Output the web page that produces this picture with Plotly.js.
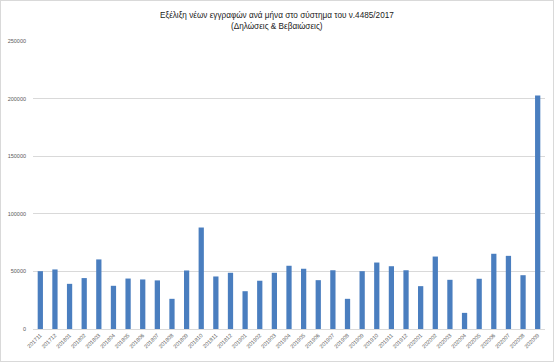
<!DOCTYPE html>
<html>
<head>
<meta charset="utf-8">
<script src="https://cdn.plot.ly/plotly-3.0.1.min.js"></script>
<style>
html,body{margin:0;padding:0;background:#fff;overflow:hidden;}
#chart{width:554px;height:362px;}
#frame{position:absolute;left:0;top:0;width:552px;height:360px;border:1px solid #d9d9d9;pointer-events:none;}
</style>
</head>
<body>
<div id="chart"></div>
<div id="frame"></div>
<script>
const months = ["201711","201712",
  "201801","201802","201803","201804","201805","201806","201807","201808","201809","201810","201811","201812",
  "201901","201902","201903","201904","201905","201906","201907","201908","201909","201910","201911","201912",
  "202001","202002","202003","202004","202005","202006","202007","202008","202009"];
const registrations = [50200, 51700,
  39200, 44200, 60400, 37500, 43800, 43000, 42200, 26200, 50800, 88100, 45600, 48800,
  32800, 41900, 48800, 54900, 52300, 42400, 51000, 26200, 50200, 57700, 54500, 51000,
  37200, 62900, 42700, 14000, 43600, 65300, 63500, 46700, 202700];
const yTicks = [0, 50000, 100000, 150000, 200000, 250000];
const titleLines = ["Εξέλιξη νέων εγγραφών ανά μήνα στο σύστημα του ν.4485/2017", "(Δηλώσεις & Βεβαιώσεις)"];

const trace = {
  type: "bar",
  x: months,
  y: registrations,
  marker: {color: "#4a7ebf"},
  hoverinfo: "x+y"
};

const titleFont = {size: 8.2, color: "#1a1a1a", family: "Liberation Sans, Arial, sans-serif"};
const plotTop = 41, plotH = 288;
const layout = {
  width: 554, height: 362,
  margin: {l: 33, r: 9, t: 41, b: 33},
  paper_bgcolor: "#ffffff",
  plot_bgcolor: "#ffffff",
  bargap: 0.64,
  showlegend: false,
  font: {family: "Liberation Sans, Arial, sans-serif", color: "#595959"},
  annotations: [
    {text: titleLines[0], xref: "paper", yref: "paper", x: 0.477, y: 1 + (plotTop - 15) / plotH,
     xanchor: "center", yanchor: "middle", showarrow: false, font: titleFont},
    {text: titleLines[1], xref: "paper", yref: "paper", x: 0.477, y: 1 + (plotTop - 27) / plotH,
     xanchor: "center", yanchor: "middle", showarrow: false, font: titleFont}
  ],
  xaxis: {
    type: "category",
    tickangle: -45,
    tickfont: {size: 5.5, color: "#595959"},
    showgrid: false,
    showline: true,
    linecolor: "#d9d9d9",
    linewidth: 1,
    ticks: "",
    automargin: false
  },
  yaxis: {
    range: [0, 250000],
    tickvals: yTicks,
    ticktext: yTicks.map(String),
    tickfont: {size: 5.5, color: "#595959"},
    showgrid: true,
    gridcolor: "#d9d9d9",
    gridwidth: 1,
    zeroline: false,
    showline: false,
    ticks: "",
    ticklabelstandoff: 6,
    automargin: false
  }
};

Plotly.newPlot("chart", [trace], layout, {displayModeBar: false, staticPlot: true});
</script>
</body>
</html>
